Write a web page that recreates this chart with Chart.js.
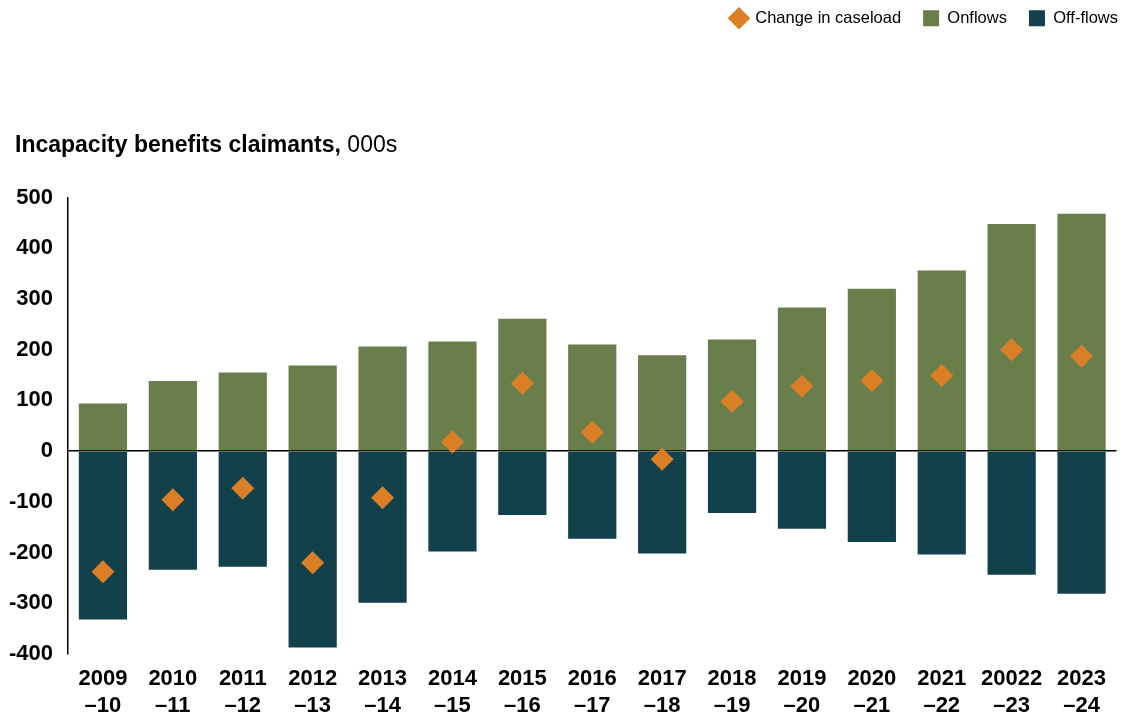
<!DOCTYPE html>
<html>
<head>
<meta charset="utf-8">
<script src="https://cdn.jsdelivr.net/npm/chart.js@4/dist/chart.umd.min.js"></script>
<style>
html,body{margin:0;padding:0;background:#fff;}
#wrap{width:1128px;height:720px;position:relative;}
</style>
</head>
<body>
<div id="wrap"><canvas id="c" width="1128" height="720"></canvas></div>
<script>
const categories = [
  ["2009","\u201310"],["2010","\u201311"],["2011","\u201312"],["2012","\u201313"],["2013","\u201314"],
  ["2014","\u201315"],["2015","\u201316"],["2016","\u201317"],["2017","\u201318"],["2018","\u201319"],
  ["2019","\u201320"],["2020","\u201321"],["2021","\u201322"],["20022","\u201323"],["2023","\u201324"]
];
const onflows  = [94, 138, 155, 169, 206, 216, 261, 210, 189, 220, 283, 320, 356, 448, 468];
const offflows = [-332, -234, -228, -387, -299, -198, -126, -173, -202, -122, -153, -179, -204, -244, -281];
const caseloadChange = [-238, -96, -73, -220, -92, 18, 134, 37, -16, 98, 128, 139, 149, 200, 187];
const yTicks = [500, 400, 300, 200, 100, 0, -100, -200, -300, -400];

const FONT = "'Liberation Sans', Arial, sans-serif";
const GREEN = '#6a7e4b', TEAL = '#12404b', ORANGE = '#db7f26';

const titlePlugin = {
  id: 'titleText',
  afterDraw(chart) {
    const ctx = chart.ctx;
    ctx.save();
    ctx.textBaseline = 'middle';
    ctx.fillStyle = '#000';
    ctx.font = 'bold 23px ' + FONT;
    const t1 = 'Incapacity benefits claimants,';
    ctx.fillText(t1, 15, 146);
    const w = ctx.measureText(t1).width;
    ctx.font = '23px ' + FONT;
    ctx.fillText(' 000s', 15 + w, 146);
    ctx.restore();
  }
};
const legendSpace = {
  id: 'legendSpace',
  beforeInit(chart) {
    const fit = chart.legend.fit;
    chart.legend.fit = function() { fit.bind(chart.legend)(); this.height += 149; };
  },
  afterLayout(chart) {
    const l = chart.legend;
    l.top = -12;
    l.right = 1140;
  }
};

new Chart(document.getElementById('c'), {
  data: {
    labels: categories,
    datasets: [
      { type: 'line', label: 'Change in caseload', data: caseloadChange, showLine: false,
        pointStyle: 'rectRot', pointRadius: 11.5, pointHoverRadius: 11.5,
        backgroundColor: ORANGE, borderColor: ORANGE, borderWidth: 0, order: 0, stack: 'chg' },
      { type: 'bar', label: 'Onflows', data: onflows, backgroundColor: GREEN, order: 1, stack: 's',
        categoryPercentage: 1, barPercentage: 0.69 },
      { type: 'bar', label: 'Off-flows', data: offflows, backgroundColor: TEAL, order: 2, stack: 's',
        categoryPercentage: 1, barPercentage: 0.69 }
    ]
  },
  options: {
    responsive: false,
    animation: false,
    layout: { padding: { left: 0, right: 11, top: 0, bottom: 0 } },
    plugins: {
      tooltip: { enabled: false },
      legend: {
        position: 'top', align: 'end',
        labels: {
          usePointStyle: true, boxHeight: 16, boxWidth: 16, padding: 22,
          color: '#000', font: { family: FONT, size: 16.5 },
          generateLabels(chart) {
            const items = Chart.defaults.plugins.legend.labels.generateLabels(chart);
            items.forEach(it => {
              it.pointStyle = (it.text === 'Change in caseload') ? 'rectRot' : 'rect';
              it.lineWidth = 0;
            });
            return items;
          }
        }
      }
    },
    scales: {
      x: {
        stacked: true,
        grid: { display: false, drawTicks: false },
        border: { display: false },
        afterFit(scale) { scale.height = 66; },
        ticks: { color: '#000', font: { family: FONT, size: 22, weight: 'bold', lineHeight: 1.2 }, maxRotation: 0, autoSkip: false, padding: 12 }
      },
      y: {
        stacked: true,
        min: -400, max: 500,
        afterBuildTicks(axis) { axis.ticks = yTicks.map(v => ({ value: v })); },
        afterFit(scale) { scale.width = 68; },
        grid: { drawTicks: false, color: c => (c.tick && c.tick.value === 0) ? '#000' : 'rgba(0,0,0,0)', lineWidth: 1.5 },
        border: { display: true, color: '#000', width: 1.5 },
        ticks: { color: '#000', font: { family: FONT, size: 22, weight: 'bold' }, padding: 15 }
      }
    }
  },
  plugins: [titlePlugin, legendSpace]
});
</script>
</body>
</html>
